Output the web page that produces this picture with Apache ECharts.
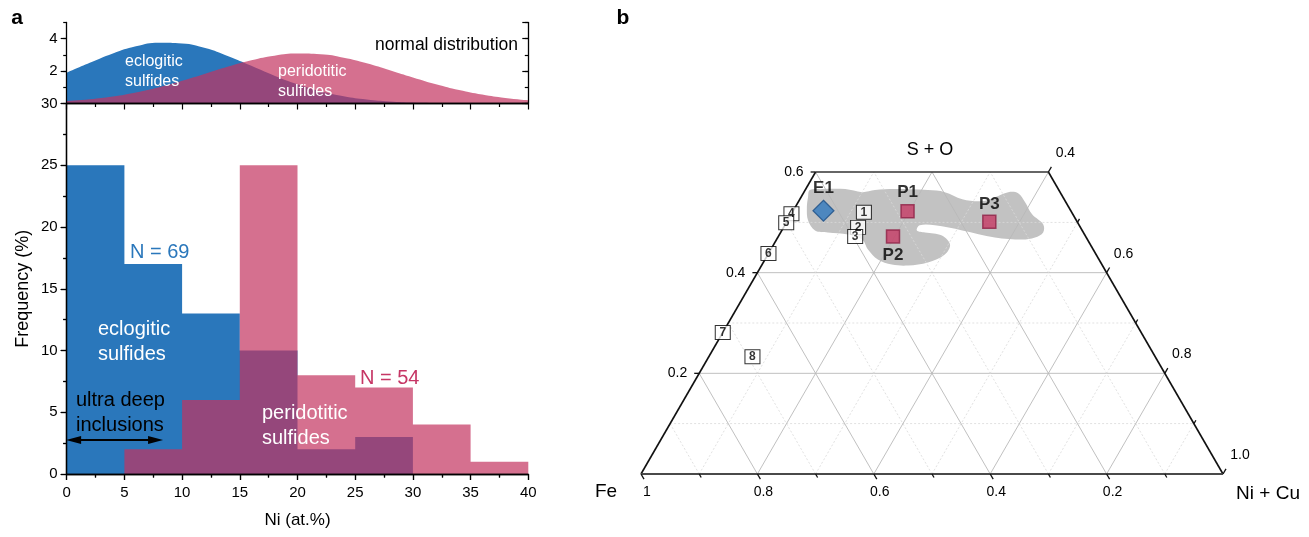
<!DOCTYPE html>
<html>
<head>
<meta charset="utf-8">
<script src="https://cdn.jsdelivr.net/npm/echarts@6/dist/echarts.min.js"></script>
<style>
  html, body { margin: 0; padding: 0; background: #fff; }
  #chart { width: 1309px; height: 537px; }
</style>
</head>
<body>
<div id="chart"></div>
<script>
// ---------- panel a: Ni content of sulfide inclusions ----------
const binEdges = [0, 5, 10, 15, 20, 25, 30, 35, 40];
const eclogiticFreq = [25, 17, 13, 10, 2, 3, 0, 0];
const peridotiticFreq = [0, 2, 6, 25, 8, 7, 4, 1];

// fitted normal distributions, sampled every 2 at.% Ni
const curveNi = [0, 2, 4, 6, 8, 10, 12, 14, 16, 18, 20, 22, 24, 26, 28, 30, 32, 34, 36, 38, 40];
const eclogiticCurve = [1.90, 2.51, 3.09, 3.53, 3.75, 3.71, 3.42, 2.92, 2.33, 1.72, 1.19, 0.76, 0.45, 0.25, 0.13, 0.06, 0.03, 0.01, 0, 0, 0];
const peridotiticCurve = [0.15, 0.26, 0.43, 0.68, 1.00, 1.40, 1.84, 2.28, 2.67, 2.95, 3.08, 3.04, 2.83, 2.49, 2.06, 1.61, 1.19, 0.83, 0.55, 0.34, 0.20];

// ---------- panel b: ternary Fe - (Ni+Cu) - (S+O), mole fractions ----------
const sampleNames = ['E1', 'P1', 'P2', 'P3'];
const sampleSO = [0.523, 0.522, 0.472, 0.501];
const sampleNiCu = [0.052, 0.197, 0.197, 0.348];

const refLabels = ['1', '2', '3', '4', '5', '6', '7', '8'];
const refSO = [0.520, 0.490, 0.472, 0.517, 0.499, 0.438, 0.281, 0.233];
const refNiCu = [0.123, 0.128, 0.132, 0.000, 0.000, 0.000, 0.000, 0.075];

// outline of the grey field of natural monosulfide compositions
const fieldSO = [0.550, 0.564, 0.566, 0.566, 0.560, 0.564, 0.566, 0.564, 0.560, 0.546, 0.542, 0.550, 0.560, 0.558, 0.540, 0.516, 0.496, 0.480, 0.470, 0.466,
                 0.470, 0.484, 0.494, 0.494, 0.484, 0.480, 0.474, 0.456, 0.436, 0.420, 0.414, 0.416, 0.426, 0.446, 0.466, 0.476, 0.480, 0.484, 0.504, 0.530];
const fieldNiCu = [0.012, 0.008, 0.028, 0.068, 0.100, 0.120, 0.153, 0.211, 0.242, 0.279, 0.315, 0.333, 0.351, 0.369, 0.390, 0.414, 0.443, 0.451, 0.442, 0.422,
                   0.373, 0.310, 0.258, 0.232, 0.232, 0.248, 0.280, 0.303, 0.304, 0.283, 0.252, 0.223, 0.194, 0.167, 0.147, 0.118, 0.081, 0.057, 0.035, 0.020];

const ternaryMaxSO = 0.6;
const feTickValues = [1.0, 0.9, 0.8, 0.7, 0.6, 0.5, 0.4, 0.3, 0.2, 0.1];
const feTickLabels = ['1', '', '0.8', '', '0.6', '', '0.4', '', '0.2', ''];
const niCuTickValues = [0.4, 0.5, 0.6, 0.7, 0.8, 0.9, 1.0];
const niCuTickLabels = ['0.4', '', '0.6', '', '0.8', '', '1.0'];
const soTickValues = [0.2, 0.4, 0.6];
const soTickLabels = ['0.2', '0.4', '0.6'];

// ---------- helpers ----------
const FONT = "'Liberation Sans', Arial, Helvetica, sans-serif";
const BLUE = '#2a77bb';
const PINK = 'rgba(195, 51, 95, 0.7)';

// ternary (S+O, Ni+Cu) -> cartesian data coordinates of an equilateral triangle
function tern(so, nicu) { return [nicu + so / 2, so]; }

// each histogram is drawn as one stepped outline so neighbouring bins leave no seams
function histStep(rows) {
  return function (params, api) {
    if (params.dataIndex !== 0) return null;
    const pts = [api.coord([rows[0][0], 0])];
    rows.forEach(r => {
      pts.push(api.coord([r[0], r[2]]));
      pts.push(api.coord([r[1], r[2]]));
    });
    pts.push(api.coord([rows[rows.length - 1][1], 0]));
    return { type: 'polygon', shape: { points: pts }, style: { fill: api.visual('color') } };
  };
}

const eclRows = eclogiticFreq.map((f, i) => [binEdges[i], binEdges[i + 1], f]);
const perRows = peridotiticFreq.map((f, i) => [binEdges[i], binEdges[i + 1], f]);

// grid lines and frame of the ternary plot
const segs = [];
function addSeg(p, q, kind) { segs.push([p[0], p[1], q[0], q[1], kind]); }
for (let k = 1; k <= 9; k++) {
  const v = k / 10;
  const kind = k % 2 === 0 ? 0 : 1;
  if (v < ternaryMaxSO - 1e-9) addSeg(tern(v, 0), tern(v, 1 - v), kind);          // constant S+O
  const top = Math.min(1 - v, ternaryMaxSO);
  addSeg(tern(0, v), tern(top, v), kind);                                           // constant Ni+Cu
  addSeg(tern(0, 1 - v), tern(top, 1 - v - top), kind);                            // constant Fe
}
addSeg(tern(0, 0), tern(ternaryMaxSO, 0), 2);
addSeg(tern(0, 1), tern(ternaryMaxSO, 1 - ternaryMaxSO), 2);
addSeg(tern(ternaryMaxSO, 0), tern(ternaryMaxSO, 1 - ternaryMaxSO), 4);
addSeg(tern(0, 0), tern(0, 1), 3);

const segStyles = [
  { stroke: '#b9b9b9', lineWidth: 0.9 },
  { stroke: '#d9d9d9', lineWidth: 0.8, lineDash: [2, 2] },
  { stroke: '#111', lineWidth: 1.6 },
  { stroke: '#4a4a4a', lineWidth: 2.2 },
  { stroke: '#333', lineWidth: 1.6 }
];

// edge ticks with their labels
const tickSpecs = [];
feTickValues.forEach((fe, i) => tickSpecs.push({
  pos: tern(0, 1 - fe), dir: [0.5, 0.866], len: feTickLabels[i] ? 6 : 4,
  text: feTickLabels[i], off: [6, 18], align: 'center'
}));
niCuTickValues.forEach((n, i) => tickSpecs.push({
  pos: tern(1 - n, n), dir: [0.5, -0.866], len: niCuTickLabels[i] ? 6 : 4,
  text: niCuTickLabels[i], off: [17, -19], align: 'center'
}));
soTickValues.forEach((s, i) => tickSpecs.push({
  pos: tern(s, 0), dir: [-1, 0], len: 5,
  text: soTickLabels[i], off: [-12, 0], align: 'right'
}));

const fieldVertices = fieldSO.map((s, i) => tern(s, fieldNiCu[i]));

const axisLine = { show: true, lineStyle: { color: '#000', width: 1.3 } };
const tickLine = { color: '#000', width: 1.2 };

function flatY(grid, min, max, interval, pos, opts) {
  return Object.assign({
    gridIndex: grid, type: 'value', min: min, max: max, interval: interval, position: pos,
    axisLine: axisLine, splitLine: { show: false }, z: 10,
    axisTick: { show: true, inside: false, length: 6, lineStyle: tickLine },
    axisLabel: { show: false }
  }, opts || {});
}

const chart = echarts.init(document.getElementById('chart'), null, { renderer: 'canvas', width: 1309, height: 537 });

const option = {
  animation: false,
  backgroundColor: '#fff',
  textStyle: { fontFamily: FONT },
  grid: [
    { left: 66.7, top: 22.5, width: 461.6, height: 81 },
    { left: 66.7, top: 103.5, width: 461.6, height: 370.5 },
    { left: 641, top: 172, width: 582, height: 302 }
  ],
  xAxis: [
    { gridIndex: 0, type: 'value', min: 0, max: 40, interval: 5, position: 'bottom', axisLine: axisLine,
      axisTick: { show: false }, axisLabel: { show: false }, splitLine: { show: false }, z: 10 },
    { gridIndex: 0, type: 'value', min: 0, max: 40, interval: 5, position: 'top', axisLine: axisLine,
      axisTick: { show: true, inside: true, length: 6, lineStyle: tickLine },
      minorTick: { show: true, splitNumber: 2, length: 3.5, lineStyle: tickLine },
      axisLabel: { show: false }, splitLine: { show: false }, z: 10 },
    { gridIndex: 1, type: 'value', min: 0, max: 40, interval: 5, position: 'bottom', axisLine: axisLine,
      axisTick: { show: true, inside: false, length: 6, lineStyle: tickLine },
      minorTick: { show: true, splitNumber: 2, length: 3.5, lineStyle: tickLine },
      axisLabel: { show: true, color: '#000', fontSize: 15, margin: 11 },
      splitLine: { show: false }, z: 10,
      name: 'Ni (at.%)', nameLocation: 'middle', nameGap: 38,
      nameTextStyle: { color: '#000', fontSize: 17 } },
    { gridIndex: 1, type: 'value', min: 0, max: 40, interval: 5, position: 'top', axisLine: axisLine,
      axisTick: { show: true, inside: true, length: 6, lineStyle: tickLine },
      minorTick: { show: true, splitNumber: 2, length: 3.5, lineStyle: tickLine },
      axisLabel: { show: false }, splitLine: { show: false }, z: 10 },
    { gridIndex: 2, type: 'value', min: 0, max: 1, show: false }
  ],
  yAxis: [
    flatY(0, 0, 5, 2, 'left', {
      axisLabel: { show: true, color: '#000', fontSize: 15, margin: 9, showMinLabel: false, showMaxLabel: false }
    }),
    flatY(0, 0, 5, 1, 'left', { axisLine: { show: false }, axisTick: { show: true, length: 3.5, lineStyle: tickLine } }),
    flatY(0, 0, 5, 2, 'right', { axisTick: { show: true, inside: true, length: 6, lineStyle: tickLine } }),
    flatY(0, 0, 5, 1, 'right', { axisLine: { show: false }, axisTick: { show: true, inside: true, length: 3.5, lineStyle: tickLine } }),
    flatY(1, 0, 30, 5, 'left', {
      axisTick: { show: true, inside: false, length: 6, lineStyle: tickLine },
      minorTick: { show: true, splitNumber: 2, length: 3.5, lineStyle: tickLine },
      axisLabel: { show: true, color: '#000', fontSize: 15, margin: 9 },
      name: 'Frequency (%)', nameLocation: 'middle', nameGap: 35,
      nameTextStyle: { color: '#000', fontSize: 18 }
    }),
    flatY(1, 0, 30, 5, 'right', {
      axisTick: { show: true, inside: true, length: 6, lineStyle: tickLine },
      minorTick: { show: true, splitNumber: 2, length: 3.5, lineStyle: tickLine }
    }),
    { gridIndex: 2, type: 'value', min: 0, max: ternaryMaxSO, show: false }
  ],
  series: [
    // normal distributions (top strip)
    { type: 'line', xAxisIndex: 0, yAxisIndex: 0, smooth: true, showSymbol: false, silent: true,
      data: curveNi.map((x, i) => [x, eclogiticCurve[i]]),
      lineStyle: { width: 0, opacity: 0 }, areaStyle: { color: BLUE, opacity: 1 }, z: 2 },
    { type: 'line', xAxisIndex: 0, yAxisIndex: 0, smooth: true, showSymbol: false, silent: true,
      data: curveNi.map((x, i) => [x, peridotiticCurve[i]]),
      lineStyle: { width: 0, opacity: 0 }, areaStyle: { color: PINK, opacity: 1 }, z: 3 },
    // histograms
    { type: 'custom', xAxisIndex: 2, yAxisIndex: 4, renderItem: histStep(eclRows), data: eclRows,
      itemStyle: { color: BLUE }, silent: true, z: 2,
      markLine: {
        silent: true, symbol: ['triangle', 'triangle'], symbolSize: [8, 15],
        label: { show: false }, lineStyle: { color: '#000', width: 2, type: 'solid' },
        data: [[{ coord: [0.6, 2.75] }, { coord: [7.7, 2.75] }]]
      } },
    { type: 'custom', xAxisIndex: 2, yAxisIndex: 4, renderItem: histStep(perRows), data: perRows,
      itemStyle: { color: PINK }, silent: true, z: 3 },
    // ternary: grey field
    { type: 'custom', xAxisIndex: 4, yAxisIndex: 6, silent: true, z: 1, data: fieldVertices,
      renderItem: function (params, api) {
        if (params.dataIndex !== 0) return null;
        return { type: 'polygon', shape: { points: fieldVertices.map(v => api.coord(v)), smooth: 0.35 },
                 style: { fill: '#c2c2c2' } };
      } },
    // ternary: grid lines and frame
    { type: 'custom', xAxisIndex: 4, yAxisIndex: 6, silent: true, z: 2, data: segs,
      renderItem: function (params, api) {
        const p = api.coord([api.value(0), api.value(1)]);
        const q = api.coord([api.value(2), api.value(3)]);
        return { type: 'line', shape: { x1: p[0], y1: p[1], x2: q[0], y2: q[1] },
                 style: Object.assign({ fill: null }, segStyles[api.value(4)]) };
      } },
    // ternary: edge ticks and labels
    { type: 'custom', xAxisIndex: 4, yAxisIndex: 6, silent: true, z: 3, data: tickSpecs.map(t => t.pos),
      renderItem: function (params, api) {
        const t = tickSpecs[params.dataIndex];
        const p = api.coord(t.pos);
        const children = [{ type: 'line',
          shape: { x1: p[0], y1: p[1], x2: p[0] + t.dir[0] * t.len, y2: p[1] + t.dir[1] * t.len },
          style: { stroke: '#111', lineWidth: 1.3 } }];
        if (t.text) children.push({ type: 'text', x: p[0] + t.off[0], y: p[1] + t.off[1],
          style: { text: t.text, fill: '#000', font: '14px ' + FONT, textAlign: t.align, textVerticalAlign: 'middle' } });
        return { type: 'group', children: children };
      } },
    // ternary: literature compositions
    { type: 'scatter', xAxisIndex: 4, yAxisIndex: 6, silent: true, z: 4,
      symbol: 'rect', symbolSize: [15, 14],
      itemStyle: { color: '#fff', borderColor: '#000', borderWidth: 1 },
      label: { show: true, position: 'inside', formatter: '{b}', color: '#000', fontWeight: 'bold', fontSize: 12, fontFamily: FONT },
      data: refLabels.map((n, i) => ({ name: n, value: tern(refSO[i], refNiCu[i]) })) },
    // ternary: measured sulfides
    { type: 'scatter', xAxisIndex: 4, yAxisIndex: 6, silent: true, z: 5,
      label: { show: true, formatter: '{b}', color: '#000', fontWeight: 'bold', fontSize: 17, fontFamily: FONT },
      data: sampleNames.map((n, i) => {
        const isE = n.charAt(0) === 'E';
        return {
          name: n, value: tern(sampleSO[i], sampleNiCu[i]),
          symbol: isE ? 'diamond' : 'rect',
          symbolSize: isE ? 21 : 13,
          itemStyle: isE ? { color: '#2f78be', borderColor: '#1d4f86', borderWidth: 1.2 }
                         : { color: '#c63a64', borderColor: '#8f2246', borderWidth: 1.5 },
          label: { position: n === 'P2' ? 'bottom' : 'top', distance: n === 'P3' ? 2 : 3 }
        };
      }) }
  ],
  graphic: { elements: [
    { type: 'text', x: 17, y: 18, style: { text: 'a', font: 'bold 21px ' + FONT, fill: '#000', textAlign: 'center', textVerticalAlign: 'middle' } },
    { type: 'text', x: 623, y: 18, style: { text: 'b', font: 'bold 21px ' + FONT, fill: '#000', textAlign: 'center', textVerticalAlign: 'middle' } },
    { type: 'text', x: 518, y: 45, z: 20, style: { text: 'normal distribution', font: '17.5px ' + FONT, fill: '#000', textAlign: 'right', textVerticalAlign: 'middle' } },
    { type: 'text', x: 125, y: 62, z: 20, style: { text: 'eclogitic', font: '16px ' + FONT, fill: '#fff', textAlign: 'left', textVerticalAlign: 'middle' } },
    { type: 'text', x: 125, y: 82, z: 20, style: { text: 'sulfides', font: '16px ' + FONT, fill: '#fff', textAlign: 'left', textVerticalAlign: 'middle' } },
    { type: 'text', x: 278, y: 72, z: 20, style: { text: 'peridotitic', font: '16px ' + FONT, fill: '#fff', textAlign: 'left', textVerticalAlign: 'middle' } },
    { type: 'text', x: 278, y: 92, z: 20, style: { text: 'sulfides', font: '16px ' + FONT, fill: '#fff', textAlign: 'left', textVerticalAlign: 'middle' } },
    { type: 'text', x: 130, y: 252, z: 20, style: { text: 'N = 69', font: '20px ' + FONT, fill: BLUE, textAlign: 'left', textVerticalAlign: 'middle' } },
    { type: 'text', x: 98, y: 329, z: 20, style: { text: 'eclogitic', font: '20px ' + FONT, fill: '#fff', textAlign: 'left', textVerticalAlign: 'middle' } },
    { type: 'text', x: 98, y: 354, z: 20, style: { text: 'sulfides', font: '20px ' + FONT, fill: '#fff', textAlign: 'left', textVerticalAlign: 'middle' } },
    { type: 'text', x: 76, y: 400, z: 20, style: { text: 'ultra deep', font: '20px ' + FONT, fill: '#000', textAlign: 'left', textVerticalAlign: 'middle' } },
    { type: 'text', x: 76, y: 425, z: 20, style: { text: 'inclusions', font: '20px ' + FONT, fill: '#000', textAlign: 'left', textVerticalAlign: 'middle' } },
    { type: 'text', x: 262, y: 413, z: 20, style: { text: 'peridotitic', font: '20px ' + FONT, fill: '#fff', textAlign: 'left', textVerticalAlign: 'middle' } },
    { type: 'text', x: 262, y: 438, z: 20, style: { text: 'sulfides', font: '20px ' + FONT, fill: '#fff', textAlign: 'left', textVerticalAlign: 'middle' } },
    { type: 'text', x: 360, y: 378, z: 20, style: { text: 'N = 54', font: '20px ' + FONT, fill: '#c63665', textAlign: 'left', textVerticalAlign: 'middle' } },
    { type: 'text', x: 930, y: 150, z: 20, style: { text: 'S + O', font: '18px ' + FONT, fill: '#000', textAlign: 'center', textVerticalAlign: 'middle' } },
    { type: 'text', x: 606, y: 492, z: 20, style: { text: 'Fe', font: '19px ' + FONT, fill: '#000', textAlign: 'center', textVerticalAlign: 'middle' } },
    { type: 'text', x: 1268, y: 494, z: 20, style: { text: 'Ni + Cu', font: '19px ' + FONT, fill: '#000', textAlign: 'center', textVerticalAlign: 'middle' } }
  ] }
};

chart.setOption(option);
</script>
</body>
</html>
